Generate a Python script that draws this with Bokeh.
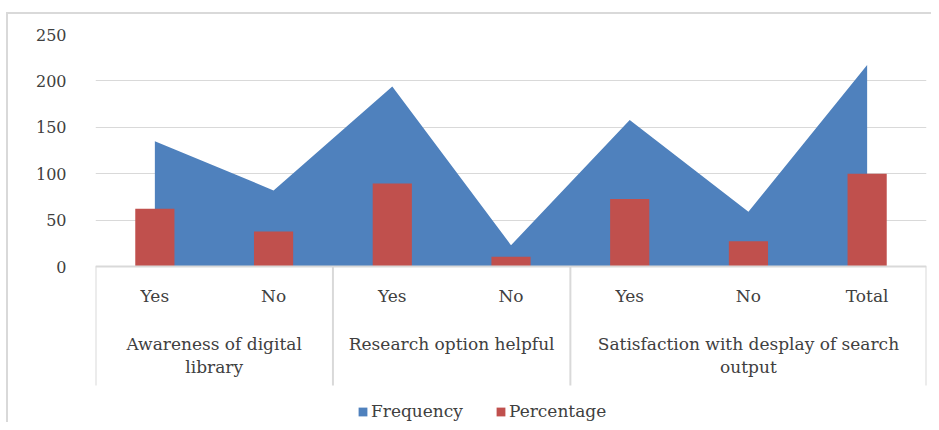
from bokeh.plotting import figure
from bokeh.models import Range1d, FixedTicker, Legend, LegendItem, ColumnDataSource
from bokeh.core.properties import value
from bokeh.embed import file_html
from bokeh.resources import INLINE

# ---- data ----
groups = ["Awareness of digital\nlibrary", "Research option helpful",
          "Satisfaction with desplay of search\noutput"]
group_sizes = [2, 2, 3]
categories = ["Yes", "No", "Yes", "No", "Yes", "No", "Total"]
frequency = [135, 82, 194, 23, 158, 59, 217]
percentage = [62.2, 37.8, 89.4, 10.6, 72.8, 27.2, 100]
y_ticks = [0, 50, 100, 150, 200, 250]

# ---- layout helpers (page pixels) ----
CONTENT_LEFT, CONTENT_TOP = 8, 14
W, H = 925, 410
FRAME_LEFT, FRAME_RIGHT = 95, 926
FRAME_TOP, ZERO = 34, 266
FRAME_BOTTOM = CONTENT_TOP + H
ppu = (ZERO - FRAME_TOP) / 250.0
y_start = -(FRAME_BOTTOM - ZERO) / ppu
row1_y = -(295 - ZERO) / ppu
grp_y1 = -(343 - ZERO) / ppu
line_gap = 23 / ppu
box_bottom = -(385 - ZERO) / ppu
LEGEND_LEFT = 357

TEXT = "#404040"
GRID = "#d9d9d9"
FONT = "DejaVu Serif"

n = len(categories)
centers = [i + 0.5 for i in range(n)]

p = figure(width=W, height=H, x_range=Range1d(0, n), y_range=Range1d(y_start, 250),
           output_backend="svg", toolbar_location=None, x_axis_location=None,
           min_border_left=FRAME_LEFT - CONTENT_LEFT,
           min_border_right=CONTENT_LEFT + W - FRAME_RIGHT,
           min_border_top=FRAME_TOP - CONTENT_TOP, min_border_bottom=0,
           outline_line_color=None)
p.styles = {"border-top": "2px solid #d9d9d9", "border-left": "2px solid #d9d9d9",
            "margin-top": "12px", "margin-left": "6px"}

p.xgrid.visible = False
p.ygrid.ticker = FixedTicker(ticks=y_ticks)
p.ygrid.grid_line_color = GRID
p.ygrid.grid_line_width = 1

p.yaxis.ticker = FixedTicker(ticks=y_ticks)
p.yaxis.axis_line_color = None
p.yaxis.major_tick_line_color = None
p.yaxis.minor_tick_line_color = None
p.yaxis.major_label_text_font = FONT
p.yaxis.major_label_text_font_size = "16px"
p.yaxis.major_label_text_color = TEXT
p.yaxis.major_label_standoff = 23

src = ColumnDataSource(dict(x=centers, freq=frequency, pct=percentage))
area = p.varea(x="x", y1=0, y2="freq", source=src, fill_color="#4F81BD")
bars = p.vbar(x="x", top="pct", bottom=0, width=0.33, source=src,
              fill_color="#C0504D", line_color=None)

# category axis box
p.segment(x0=[0], y0=[0], x1=[n], y1=[0], line_color=GRID, line_width=2)
bounds = [0]
for s in group_sizes:
    bounds.append(bounds[-1] + s)
p.segment(x0=bounds, y0=[0] * len(bounds), x1=bounds, y1=[box_bottom] * len(bounds),
          line_color=GRID, line_width=2)

p.text(x=centers, y=[row1_y] * n, text=categories, text_align="center",
       text_baseline="middle", text_font=value(FONT), text_font_size="17px",
       text_color=TEXT)

gx, gy, gt = [], [], []
for i, g in enumerate(groups):
    c = (bounds[i] + bounds[i + 1]) / 2
    for j, line in enumerate(g.split("\n")):
        gx.append(c)
        gy.append(grp_y1 - j * line_gap)
        gt.append(line)
p.text(x=gx, y=gy, text=gt, text_align="center", text_baseline="middle",
       text_font=value(FONT), text_font_size="17px", text_color=TEXT)

legend = Legend(items=[LegendItem(label="Frequency", renderers=[area]),
                       LegendItem(label="Percentage", renderers=[bars])],
                orientation="horizontal", location=(LEGEND_LEFT - FRAME_LEFT, 3),
                padding=0, margin=0,
                spacing=32, glyph_width=11, glyph_height=11, label_standoff=3,
                label_text_font=FONT, label_text_font_size="17px",
                label_text_color=TEXT, border_line_color=None,
                background_fill_alpha=0, label_height=17)
p.add_layout(legend)

open("out.html", "w").write(file_html(p, INLINE))
